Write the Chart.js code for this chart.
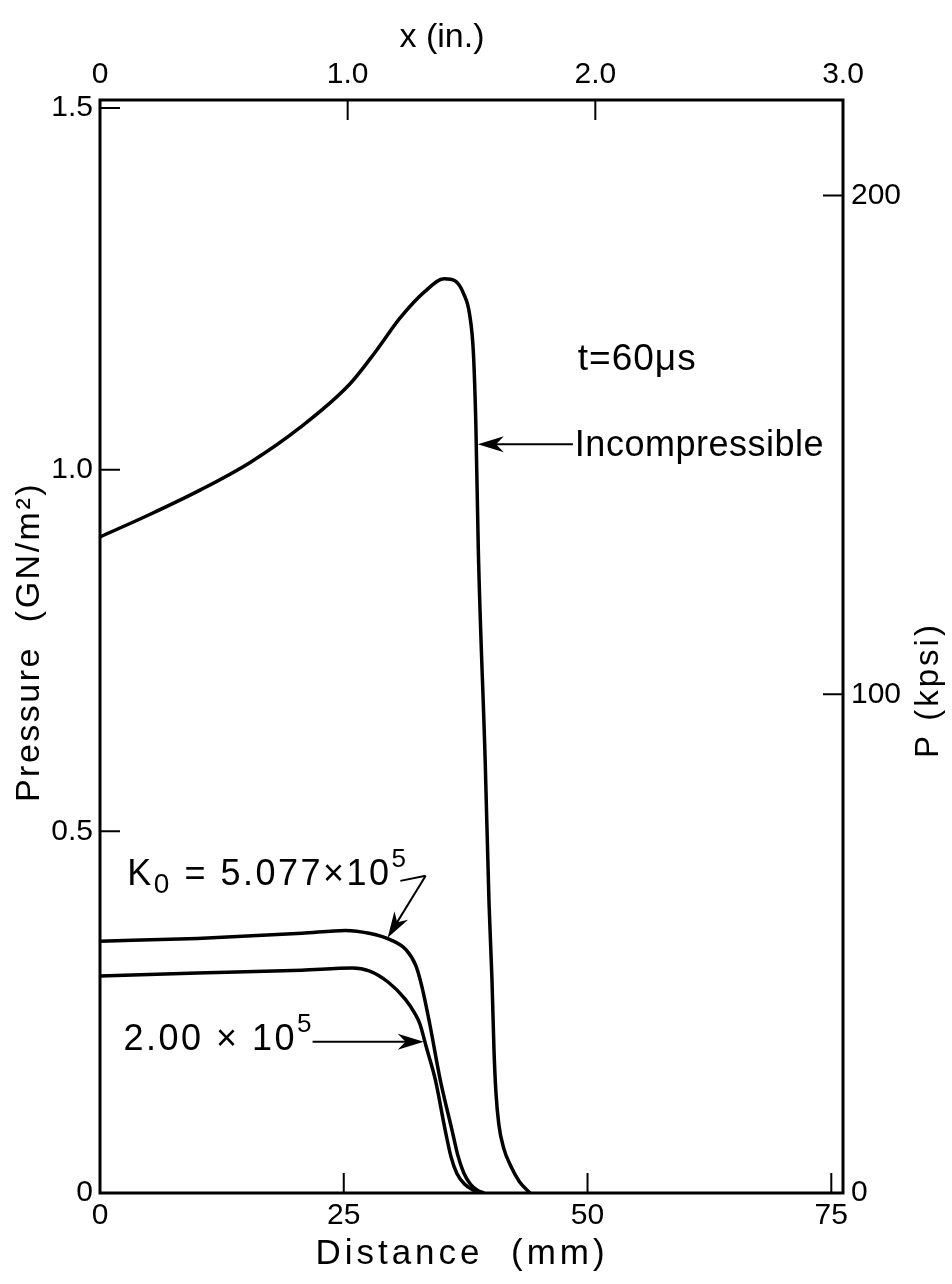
<!DOCTYPE html>
<html>
<head>
<meta charset="utf-8">
<title>Pressure vs distance, t = 60 us</title>
<script src="https://cdn.jsdelivr.net/npm/chart.js@4.4.1/dist/chart.umd.min.js"></script>
<style>
  html, body { margin: 0; padding: 0; background: #fff; }
  #wrap { width: 952px; height: 1284px; }
</style>
</head>
<body>
<div id="wrap"><canvas id="pressureChart" width="952" height="1284"></canvas></div>
<script>
// Pressure profiles along the tube (distance in mm, pressure in GN/m^2)
const incompX = [0, 5.1, 10.3, 15.4, 20.5, 25.6, 28.2, 30.8, 33.3, 35.3, 36.4, 37.3, 37.9, 38.3, 38.55, 38.8, 39.5, 39.9, 40.2, 40.4, 40.6, 40.9, 41.4, 42.1, 43.0, 44.1];
const incompP = [0.907, 0.938, 0.972, 1.010, 1.058, 1.118, 1.162, 1.210, 1.246, 1.264, 1.261, 1.243, 1.215, 1.16, 1.06, 0.889, 0.599, 0.40, 0.295, 0.20, 0.14, 0.095, 0.062, 0.038, 0.016, 0];

const k5X = [0, 10, 20.7, 25.2, 27.6, 29.8, 31.4, 32.4, 33.0, 33.8, 34.9, 36.1, 36.7, 37.3, 38.0, 38.7, 39.4];
const k5P = [0.348, 0.352, 0.359, 0.363, 0.359, 0.350, 0.336, 0.314, 0.286, 0.235, 0.156, 0.087, 0.052, 0.028, 0.012, 0.004, 0];

const k2X = [0, 10, 20.7, 25.9, 27.6, 29.6, 31.3, 32.3, 32.8, 33.5, 34.4, 35.4, 36.0, 36.6, 37.4, 38.3, 39.2];
const k2P = [0.300, 0.304, 0.308, 0.311, 0.307, 0.291, 0.268, 0.248, 0.234, 0.200, 0.156, 0.087, 0.050, 0.027, 0.012, 0.004, 0];

// Axis ticks
const mmTicks = [0, 25, 50, 75];
const inTicks = [0, 1, 2, 3];
const gnTicks = [0, 0.5, 1.0, 1.5];
const kpsiTicks = [0, 100, 200];

const X_MAX_MM = 76.2;      // 3.0 in
const Y_MAX_GN = 1.511;
const KPSI_PER_GN = 145.04;

const FONT = '"Liberation Sans", Arial, sans-serif';

function toPoints(xs, ys) {
  return xs.map((x, i) => ({ x: x, y: ys[i] }));
}

function curve(data) {
  return {
    data: data,
    borderColor: "#000",
    borderWidth: 3.5,
    pointRadius: 0,
    fill: false,
    cubicInterpolationMode: "monotone",
    xAxisID: "x",
    yAxisID: "y",
  };
}

function fixedTicks(values) {
  return function (scale) {
    scale.ticks = values.map((v) => ({ value: v }));
  };
}

function drawArrow(ctx, x1, y1, x2, y2) {
  const ang = Math.atan2(y2 - y1, x2 - x1);
  const len = 26, half = 8;
  ctx.beginPath();
  ctx.moveTo(x1, y1);
  ctx.lineTo(x2 - Math.cos(ang) * 10, y2 - Math.sin(ang) * 10);
  ctx.stroke();
  ctx.save();
  ctx.translate(x2, y2);
  ctx.rotate(ang);
  ctx.beginPath();
  ctx.moveTo(0, 0);
  ctx.lineTo(-len, -half);
  ctx.lineTo(-len * 0.7, 0);
  ctx.lineTo(-len, half);
  ctx.closePath();
  ctx.fill();
  ctx.restore();
}

// draws a run of [text, size, dy] pieces left to right
function drawRun(ctx, x, y, parts, spacing) {
  ctx.save();
  ctx.textAlign = "left";
  ctx.textBaseline = "alphabetic";
  ctx.letterSpacing = spacing + "px";
  parts.forEach(([t, size, dy]) => {
    ctx.font = size + "px " + FONT;
    ctx.fillText(t, x, y + dy);
    x += ctx.measureText(t).width;
  });
  ctx.restore();
}

function vText(ctx, text, cx, cy, size, spacing) {
  ctx.save();
  ctx.translate(cx, cy);
  ctx.rotate(-Math.PI / 2);
  ctx.letterSpacing = spacing + "px";
  ctx.font = size + "px " + FONT;
  ctx.textAlign = "center";
  ctx.textBaseline = "middle";
  ctx.fillText(text, 0, 0);
  ctx.restore();
}

const paperMarks = {
  id: "paperMarks",
  afterDraw(chart) {
    const ctx = chart.ctx;
    const { x, x2, y, y2 } = chart.scales;
    const area = chart.chartArea;
    const T = 20;

    ctx.save();
    ctx.strokeStyle = "#000";
    ctx.fillStyle = "#000";

    // inward tick marks
    ctx.lineWidth = 2;
    ctx.beginPath();
    mmTicks.forEach((v) => {
      const px = x.getPixelForValue(v);
      ctx.moveTo(px, area.bottom); ctx.lineTo(px, area.bottom - T);
    });
    inTicks.forEach((v) => {
      const px = x2.getPixelForValue(v);
      ctx.moveTo(px, area.top); ctx.lineTo(px, area.top + T);
    });
    gnTicks.forEach((v) => {
      const py = y.getPixelForValue(v);
      ctx.moveTo(area.left, py); ctx.lineTo(area.left + T, py);
    });
    kpsiTicks.forEach((v) => {
      const py = y2.getPixelForValue(v);
      ctx.moveTo(area.right, py); ctx.lineTo(area.right - T, py);
    });
    ctx.stroke();

    // frame
    ctx.lineWidth = 3;
    ctx.strokeRect(area.left, area.top, area.right - area.left, area.bottom - area.top);

    // axis titles
    ctx.save();
    ctx.textAlign = "center";
    ctx.textBaseline = "middle";
    ctx.font = "34px " + FONT;
    ctx.fillText("x (in.)", 442, 38);
    ctx.letterSpacing = "4px";
    ctx.font = "35px " + FONT;
    ctx.fillText("Distance  (mm)", 462, 1254);
    ctx.restore();

    vText(ctx, "Pressure  (GN/m\u00B2)", 30, 642, 34, 2.5);
    vText(ctx, "P (kpsi)", 929, 690, 33, 3);

    // time stamp
    drawRun(ctx, x.getPixelForValue(49.0), y.getPixelForValue(1.138), [["t=60\u03BCs", 37, 0]], 1);

    // Incompressible label + arrow
    ctx.lineWidth = 2;
    drawRun(ctx, x.getPixelForValue(48.7), y.getPixelForValue(1.035) + 12, [["Incompressible", 36, 0]], 0.5);
    drawArrow(ctx,
      x.getPixelForValue(48.5), y.getPixelForValue(1.035),
      x.getPixelForValue(38.75), y.getPixelForValue(1.035));

    // K0 label + bent arrow
    drawRun(ctx, x.getPixelForValue(2.8), y.getPixelForValue(0.426), [
      ["K", 36, 0], ["0", 28, 8], [" = 5.077\u00D7", 36, 0], ["10", 36, 0], ["5", 26, -18],
    ], 2.5);
    ctx.beginPath();
    ctx.moveTo(x.getPixelForValue(30.8), y.getPixelForValue(0.4315));
    ctx.lineTo(x.getPixelForValue(33.4), y.getPixelForValue(0.4385));
    ctx.stroke();
    drawArrow(ctx,
      x.getPixelForValue(33.4), y.getPixelForValue(0.4385),
      x.getPixelForValue(29.5), y.getPixelForValue(0.353));

    // 2.00e5 label + arrow
    drawRun(ctx, x.getPixelForValue(2.4), y.getPixelForValue(0.198), [
      ["2.00 \u00D7 10", 36, 0], ["5", 26, -18],
    ], 2.5);
    drawArrow(ctx,
      x.getPixelForValue(21.8), y.getPixelForValue(0.209),
      x.getPixelForValue(33.2), y.getPixelForValue(0.209));

    ctx.restore();
  },
};

const tickFont = { family: FONT, size: 30 };

new Chart(document.getElementById("pressureChart"), {
  type: "line",
  data: {
    datasets: [
      curve(toPoints(incompX, incompP)),
      curve(toPoints(k5X, k5P)),
      curve(toPoints(k2X, k2P)),
    ],
  },
  options: {
    responsive: false,
    animation: false,
    events: [],
    layout: { padding: 0 },
    plugins: { legend: { display: false }, tooltip: { enabled: false } },
    scales: {
      x: {
        type: "linear",
        position: "bottom",
        min: 0,
        max: X_MAX_MM,
        afterBuildTicks: fixedTicks(mmTicks),
        afterFit: (s) => { s.height = 91; },
        grid: { display: false, drawTicks: false },
        border: { display: false },
        ticks: { color: "#000", font: tickFont, padding: 5, maxRotation: 0, callback: (v) => String(v) },
      },
      x2: {
        type: "linear",
        position: "top",
        min: 0,
        max: 3.0,
        afterBuildTicks: fixedTicks(inTicks),
        afterFit: (s) => { s.height = 100; },
        grid: { display: false, drawTicks: false },
        border: { display: false },
        ticks: { color: "#000", font: tickFont, padding: 7, maxRotation: 0, callback: (v) => (v === 0 ? "0" : v.toFixed(1)) },
      },
      y: {
        type: "linear",
        position: "left",
        min: 0,
        max: Y_MAX_GN,
        afterBuildTicks: fixedTicks(gnTicks),
        afterFit: (s) => { s.width = 100; },
        grid: { display: false, drawTicks: false },
        border: { display: false },
        ticks: { color: "#000", font: tickFont, padding: 7, callback: (v) => (v === 0 ? "0" : v.toFixed(1)) },
      },
      y2: {
        type: "linear",
        position: "right",
        min: 0,
        max: Y_MAX_GN * KPSI_PER_GN,
        afterBuildTicks: fixedTicks(kpsiTicks),
        afterFit: (s) => { s.width = 109; },
        grid: { display: false, drawTicks: false },
        border: { display: false },
        ticks: { color: "#000", font: tickFont, padding: 8, callback: (v) => String(v) },
      },
    },
  },
  plugins: [paperMarks],
});
</script>
</body>
</html>
